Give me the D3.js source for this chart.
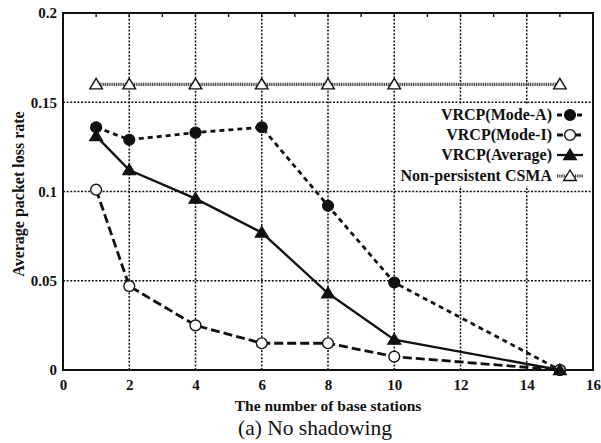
<!DOCTYPE html>
<html>
<head>
<meta charset="utf-8">
<script src="https://cdn.jsdelivr.net/npm/d3@7/dist/d3.min.js"></script>
<style>
  html, body { margin: 0; padding: 0; background: #fff; }
  svg { display: block; }
  text { font-family: "Liberation Serif", "DejaVu Serif", serif; fill: #111; }
</style>
</head>
<body>
<svg id="chart" width="601" height="443"></svg>
<script>
// Number of base stations (x) and average packet loss rate per scheme
const stations   = [1, 2, 4, 6, 8, 10, 15];
const modeA      = [0.136, 0.129, 0.133, 0.136, 0.092, 0.049, 0];
const modeI      = [0.101, 0.047, 0.025, 0.015, 0.015, 0.0075, 0];
const average    = [0.131, 0.112, 0.096, 0.077, 0.043, 0.017, 0];
const csma       = [0.16, 0.16, 0.16, 0.16, 0.16, 0.16, 0.16];

const xTicks = [0, 2, 4, 6, 8, 10, 12, 14, 16];
const yTicks = [0, 0.05, 0.1, 0.15, 0.2];
const yTickLabels = ["0", "0.05", "0.1", "0.15", "0.2"];

const seriesNames = ["VRCP(Mode-A)", "VRCP(Mode-I)", "VRCP(Average)", "Non-persistent CSMA"];

const svg = d3.select("#chart");
const ink = "#111";

const x = d3.scaleLinear().domain([0, 16]).range([63, 593]);
const y = d3.scaleLinear().domain([0, 0.2]).range([370, 13]);

// Dotted grid
const grid = svg.append("g");
grid.selectAll("line.vx").data(xTicks.slice(1, -1)).join("line")
  .attr("x1", d => x(d)).attr("x2", d => x(d))
  .attr("y1", y(0)).attr("y2", y(0.2))
  .attr("stroke", ink).attr("stroke-width", 1.5).attr("stroke-dasharray", "2,1.6");
grid.selectAll("line.hy").data(yTicks.slice(1, -1)).join("line")
  .attr("y1", d => y(d)).attr("y2", d => y(d))
  .attr("x1", x(0)).attr("x2", x(16))
  .attr("stroke", ink).attr("stroke-width", 1.5).attr("stroke-dasharray", "2,1.6");

// Minor ticks along the top edge, every integer
svg.append("g").selectAll("line").data(d3.range(1, 16)).join("line")
  .attr("x1", d => x(d)).attr("x2", d => x(d))
  .attr("y1", y(0.2)).attr("y2", y(0.2) + 4)
  .attr("stroke", ink).attr("stroke-width", 1.4);

// Tick labels through d3 axes (domain hidden, frame drawn separately)
const xAxis = d3.axisBottom(x).tickValues(xTicks).tickSize(0).tickPadding(9).tickFormat(d3.format("d"));
svg.append("g").attr("transform", `translate(0,${y(0)})`).call(xAxis)
  .call(g => g.select(".domain").remove())
  .selectAll("text")
  .style("font-family", '"Liberation Serif", serif')
  .style("font-weight", "bold").style("font-size", "15px").attr("fill", ink);

const yAxis = d3.axisLeft(y).tickValues(yTicks).tickSize(0).tickPadding(6)
  .tickFormat((d, i) => yTickLabels[i]);
svg.append("g").attr("transform", `translate(${x(0)},0)`).call(yAxis)
  .call(g => g.select(".domain").remove())
  .selectAll("text")
  .style("font-family", '"Liberation Serif", serif')
  .style("font-weight", "bold").style("font-size", "15px").attr("fill", ink);

// Plot frame
svg.append("rect")
  .attr("x", x(0)).attr("y", y(0.2))
  .attr("width", x(16) - x(0)).attr("height", y(0) - y(0.2))
  .attr("fill", "none").attr("stroke", ink).attr("stroke-width", 2);

// Series
const pts = vals => stations.map((s, i) => [s, vals[i]]);
const line = d3.line().x(d => x(d[0])).y(d => y(d[1]));

const styles = [
  { vals: modeA,   dash: "5,4",   width: 2.8, color: ink,    marker: "circle",   fill: ink },
  { vals: modeI,   dash: "9,4",   width: 2.8, color: ink,    marker: "circle",   fill: "#fff" },
  { vals: average, dash: null,    width: 2.3, color: ink,    marker: "triangle", fill: ink },
  { vals: csma,    dash: "1,0.8", width: 3.2, color: "#333", marker: "triangle", fill: "#fff" }
];

const triPath = (cx, cy, s) =>
  `M${cx},${cy - s} L${cx + s * 1.05},${cy + s * 0.75} L${cx - s * 1.05},${cy + s * 0.75} Z`;

function drawMarker(g, cx, cy, st) {
  if (st.marker === "circle") {
    g.append("circle").attr("cx", cx).attr("cy", cy).attr("r", 5.4)
      .attr("fill", st.fill).attr("stroke", ink).attr("stroke-width", 1.4);
  } else {
    g.append("path").attr("d", triPath(cx, cy, 6))
      .attr("fill", st.fill).attr("stroke", ink).attr("stroke-width", 1.4);
  }
}

// CSMA first so the other curves sit on top
[3, 0, 1, 2].forEach(k => {
  const st = styles[k];
  const g = svg.append("g");
  g.append("path").datum(pts(st.vals)).attr("d", line)
    .attr("fill", "none").attr("stroke", st.color).attr("stroke-width", st.width)
    .attr("stroke-dasharray", st.dash);
  pts(st.vals).forEach(p => drawMarker(g, x(p[0]), y(p[1]), st));
});

// Legend
const lg = svg.append("g");
lg.append("rect").attr("x", 398).attr("y", 104).attr("width", 193).attr("height", 82).attr("fill", "#fff");
const rowY = [115, 135, 155, 176];
seriesNames.forEach((name, i) => {
  const st = styles[i];
  const cy = rowY[i];
  lg.append("text").attr("x", 552).attr("y", cy + 5)
    .attr("text-anchor", "end")
    .style("font-weight", "bold").style("font-size", "16px").text(name);
  lg.append("line").attr("x1", 557).attr("x2", 583).attr("y1", cy).attr("y2", cy)
    .attr("stroke", st.color).attr("stroke-width", st.width)
    .attr("stroke-dasharray", i === 0 ? "5,5" : i === 1 ? "6,3" : st.dash);
  drawMarker(lg, 570, cy, st);
});

// Axis titles and caption
svg.append("text").attr("x", 328).attr("y", 411).attr("text-anchor", "middle")
  .style("font-weight", "bold").style("font-size", "15.5px")
  .text("The number of base stations");
svg.append("text").attr("transform", "translate(24,194) rotate(-90)")
  .attr("text-anchor", "middle")
  .style("font-weight", "bold").style("font-size", "16px")
  .text("Average packet loss rate");
svg.append("text").attr("x", 315).attr("y", 435).attr("text-anchor", "middle")
  .style("font-size", "21.5px")
  .text("(a) No shadowing");
</script>
</body>
</html>
